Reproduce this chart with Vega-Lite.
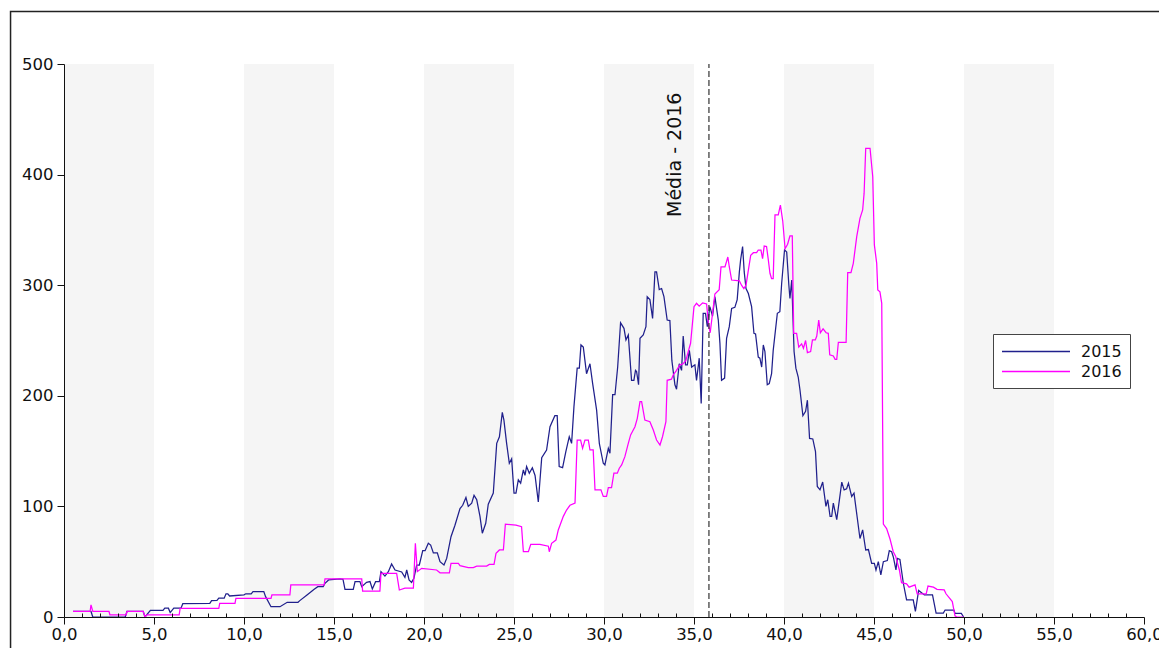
{
  "$schema": "https://vega.github.io/schema/vega-lite/v6.json",
  "width": 1080,
  "height": 553,
  "autosize": {"type": "none"},
  "padding": {"left": 64, "top": 64, "right": 15, "bottom": 31},
  "config": {"font": "DejaVu Sans", "view": {"stroke": null}},
  "datasets": {
    "bands": [{"start": 0, "end": 5}, {"start": 10, "end": 15}, {"start": 20, "end": 25}, {"start": 30, "end": 35}, {"start": 40, "end": 45}, {"start": 50, "end": 55}],
    "media": [{"media": 35.83, "label": "Média - 2016", "top": 500, "bottom": 0, "textY": 361.7}],
    "series": [
{"serie":"2015","x":0.5,"y":5},{"serie":"2015","x":1.5,"y":5},{"serie":"2015","x":1.6,"y":0},{"serie":"2015","x":3.4,"y":0},{"serie":"2015","x":3.5,"y":5},{"serie":"2015","x":4.4,"y":5},{"serie":"2015","x":4.5,"y":0},{"serie":"2015","x":4.8,"y":6},{"serie":"2015","x":5.5,"y":6},{"serie":"2015","x":5.6,"y":8},{"serie":"2015","x":5.8,"y":8},{"serie":"2015","x":5.9,"y":4},{"serie":"2015","x":6.1,"y":8},{"serie":"2015","x":6.5,"y":8},{"serie":"2015","x":6.6,"y":12},{"serie":"2015","x":8.1,"y":12.4},{"serie":"2015","x":8.2,"y":14.8},{"serie":"2015","x":8.5,"y":15},{"serie":"2015","x":8.6,"y":17},{"serie":"2015","x":8.9,"y":17},{"serie":"2015","x":9.0,"y":21},{"serie":"2015","x":9.1,"y":21},{"serie":"2015","x":9.2,"y":19},{"serie":"2015","x":10.0,"y":20},{"serie":"2015","x":10.1,"y":21},{"serie":"2015","x":10.4,"y":21},{"serie":"2015","x":10.5,"y":23},{"serie":"2015","x":11.1,"y":23},{"serie":"2015","x":11.2,"y":18.4},{"serie":"2015","x":11.5,"y":9.3},{"serie":"2015","x":12.0,"y":9.3},{"serie":"2015","x":12.4,"y":13.3},{"serie":"2015","x":13.0,"y":13.3},{"serie":"2015","x":13.1,"y":14.8},{"serie":"2015","x":13.5,"y":19.9},{"serie":"2015","x":13.9,"y":25},{"serie":"2015","x":14.1,"y":27.4},{"serie":"2015","x":14.4,"y":27.4},{"serie":"2015","x":14.5,"y":30.5},{"serie":"2015","x":14.7,"y":33.5},{"serie":"2015","x":15.33,"y":34.4},{"serie":"2015","x":15.5,"y":34},{"serie":"2015","x":15.61,"y":25},{"serie":"2015","x":16.07,"y":25},{"serie":"2015","x":16.17,"y":32},{"serie":"2015","x":16.44,"y":32},{"serie":"2015","x":16.54,"y":27.4},{"serie":"2015","x":16.81,"y":31.3},{"serie":"2015","x":17.0,"y":32},{"serie":"2015","x":17.13,"y":25.3},{"serie":"2015","x":17.31,"y":31.9},{"serie":"2015","x":17.52,"y":31.9},{"serie":"2015","x":17.61,"y":41},{"serie":"2015","x":17.83,"y":37},{"serie":"2015","x":18.02,"y":41},{"serie":"2015","x":18.2,"y":48},{"serie":"2015","x":18.39,"y":42.5},{"serie":"2015","x":18.76,"y":40.7},{"serie":"2015","x":18.94,"y":35.9},{"serie":"2015","x":19.04,"y":42.5},{"serie":"2015","x":19.17,"y":33.5},{"serie":"2015","x":19.31,"y":31.3},{"serie":"2015","x":19.44,"y":35},{"serie":"2015","x":19.59,"y":47},{"serie":"2015","x":19.74,"y":47},{"serie":"2015","x":19.93,"y":60},{"serie":"2015","x":20.06,"y":60},{"serie":"2015","x":20.24,"y":66.6},{"serie":"2015","x":20.37,"y":65},{"serie":"2015","x":20.52,"y":58},{"serie":"2015","x":20.74,"y":58},{"serie":"2015","x":20.89,"y":50},{"serie":"2015","x":21.11,"y":47},{"serie":"2015","x":21.26,"y":53},{"serie":"2015","x":21.5,"y":72.6},{"serie":"2015","x":21.72,"y":83},{"serie":"2015","x":22.0,"y":98},{"serie":"2015","x":22.15,"y":101},{"serie":"2015","x":22.33,"y":108},{"serie":"2015","x":22.46,"y":100},{"serie":"2015","x":22.65,"y":103},{"serie":"2015","x":22.78,"y":110},{"serie":"2015","x":22.93,"y":106},{"serie":"2015","x":23.11,"y":91},{"serie":"2015","x":23.24,"y":75.7},{"serie":"2015","x":23.43,"y":84.7},{"serie":"2015","x":23.57,"y":102},{"serie":"2015","x":23.85,"y":112},{"serie":"2015","x":24.04,"y":157},{"serie":"2015","x":24.19,"y":163},{"serie":"2015","x":24.35,"y":185},{"serie":"2015","x":24.44,"y":178},{"serie":"2015","x":24.59,"y":157},{"serie":"2015","x":24.74,"y":139},{"serie":"2015","x":24.87,"y":143},{"serie":"2015","x":25.0,"y":112},{"serie":"2015","x":25.11,"y":112},{"serie":"2015","x":25.24,"y":124},{"serie":"2015","x":25.37,"y":121},{"serie":"2015","x":25.52,"y":133},{"serie":"2015","x":25.61,"y":128},{"serie":"2015","x":25.7,"y":136},{"serie":"2015","x":25.85,"y":130},{"serie":"2015","x":26.02,"y":135},{"serie":"2015","x":26.17,"y":128},{"serie":"2015","x":26.35,"y":104},{"serie":"2015","x":26.54,"y":144},{"serie":"2015","x":26.81,"y":151},{"serie":"2015","x":27.0,"y":172},{"serie":"2015","x":27.27,"y":182},{"serie":"2015","x":27.4,"y":182},{"serie":"2015","x":27.51,"y":136},{"serie":"2015","x":27.7,"y":135},{"serie":"2015","x":27.88,"y":149.5},{"serie":"2015","x":28.07,"y":163},{"serie":"2015","x":28.2,"y":157},{"serie":"2015","x":28.33,"y":190},{"serie":"2015","x":28.51,"y":225},{"serie":"2015","x":28.63,"y":225},{"serie":"2015","x":28.72,"y":246},{"serie":"2015","x":28.85,"y":244},{"serie":"2015","x":29.03,"y":220},{"serie":"2015","x":29.22,"y":229},{"serie":"2015","x":29.37,"y":211},{"serie":"2015","x":29.59,"y":187},{"serie":"2015","x":29.74,"y":157},{"serie":"2015","x":29.96,"y":139},{"serie":"2015","x":30.05,"y":137.5},{"serie":"2015","x":30.24,"y":152.5},{"serie":"2015","x":30.33,"y":148},{"serie":"2015","x":30.48,"y":201},{"serie":"2015","x":30.61,"y":201},{"serie":"2015","x":30.76,"y":226},{"serie":"2015","x":30.92,"y":266},{"serie":"2015","x":31.11,"y":261},{"serie":"2015","x":31.22,"y":250.5},{"serie":"2015","x":31.35,"y":255},{"serie":"2015","x":31.53,"y":214},{"serie":"2015","x":31.66,"y":214},{"serie":"2015","x":31.75,"y":223},{"serie":"2015","x":31.81,"y":222},{"serie":"2015","x":31.92,"y":210},{"serie":"2015","x":32.0,"y":252},{"serie":"2015","x":32.18,"y":255},{"serie":"2015","x":32.33,"y":262.5},{"serie":"2015","x":32.4,"y":289.6},{"serie":"2015","x":32.55,"y":287},{"serie":"2015","x":32.7,"y":270},{"serie":"2015","x":32.83,"y":312},{"serie":"2015","x":32.92,"y":312},{"serie":"2015","x":33.07,"y":296},{"serie":"2015","x":33.2,"y":297},{"serie":"2015","x":33.33,"y":289.6},{"serie":"2015","x":33.51,"y":268.5},{"serie":"2015","x":33.66,"y":268},{"serie":"2015","x":33.77,"y":232},{"serie":"2015","x":33.94,"y":210},{"serie":"2015","x":34.03,"y":206},{"serie":"2015","x":34.18,"y":229},{"serie":"2015","x":34.31,"y":223},{"serie":"2015","x":34.4,"y":254},{"serie":"2015","x":34.53,"y":228},{"serie":"2015","x":34.63,"y":228},{"serie":"2015","x":34.74,"y":241},{"serie":"2015","x":34.87,"y":226},{"serie":"2015","x":35.05,"y":228},{"serie":"2015","x":35.14,"y":214},{"serie":"2015","x":35.29,"y":234},{"serie":"2015","x":35.4,"y":193},{"serie":"2015","x":35.51,"y":274.6},{"serie":"2015","x":35.64,"y":274.6},{"serie":"2015","x":35.74,"y":262.5},{"serie":"2015","x":35.88,"y":280.6},{"serie":"2015","x":36.03,"y":272},{"serie":"2015","x":36.16,"y":289.6},{"serie":"2015","x":36.35,"y":268.5},{"serie":"2015","x":36.44,"y":247.5},{"serie":"2015","x":36.53,"y":214},{"serie":"2015","x":36.7,"y":216},{"serie":"2015","x":36.81,"y":252},{"serie":"2015","x":36.96,"y":262.5},{"serie":"2015","x":37.09,"y":279},{"serie":"2015","x":37.27,"y":280},{"serie":"2015","x":37.4,"y":287},{"serie":"2015","x":37.52,"y":312},{"serie":"2015","x":37.59,"y":323},{"serie":"2015","x":37.7,"y":335},{"serie":"2015","x":37.79,"y":312},{"serie":"2015","x":37.89,"y":297},{"serie":"2015","x":38.02,"y":292.5},{"serie":"2015","x":38.2,"y":280.6},{"serie":"2015","x":38.33,"y":256.5},{"serie":"2015","x":38.42,"y":256},{"serie":"2015","x":38.57,"y":235},{"serie":"2015","x":38.66,"y":234},{"serie":"2015","x":38.76,"y":226},{"serie":"2015","x":38.85,"y":246},{"serie":"2015","x":38.94,"y":240},{"serie":"2015","x":39.07,"y":210},{"serie":"2015","x":39.18,"y":211},{"serie":"2015","x":39.31,"y":220},{"serie":"2015","x":39.4,"y":241},{"serie":"2015","x":39.63,"y":274.6},{"serie":"2015","x":39.77,"y":276},{"serie":"2015","x":39.87,"y":301.6},{"serie":"2015","x":40.03,"y":332},{"serie":"2015","x":40.15,"y":330},{"serie":"2015","x":40.27,"y":300},{"serie":"2015","x":40.33,"y":288},{"serie":"2015","x":40.43,"y":304.7},{"serie":"2015","x":40.56,"y":240},{"serie":"2015","x":40.66,"y":225},{"serie":"2015","x":40.79,"y":217},{"serie":"2015","x":40.89,"y":205},{"serie":"2015","x":41.05,"y":182},{"serie":"2015","x":41.2,"y":186},{"serie":"2015","x":41.3,"y":196},{"serie":"2015","x":41.42,"y":161.5},{"serie":"2015","x":41.6,"y":161},{"serie":"2015","x":41.75,"y":149.5},{"serie":"2015","x":41.85,"y":118},{"serie":"2015","x":42.0,"y":115},{"serie":"2015","x":42.15,"y":122},{"serie":"2015","x":42.33,"y":100},{"serie":"2015","x":42.43,"y":106},{"serie":"2015","x":42.56,"y":91},{"serie":"2015","x":42.65,"y":91},{"serie":"2015","x":42.74,"y":103},{"serie":"2015","x":42.93,"y":88},{"serie":"2015","x":43.21,"y":122},{"serie":"2015","x":43.34,"y":115},{"serie":"2015","x":43.48,"y":116},{"serie":"2015","x":43.58,"y":121},{"serie":"2015","x":43.76,"y":109},{"serie":"2015","x":43.89,"y":112},{"serie":"2015","x":44.22,"y":71},{"serie":"2015","x":44.37,"y":78.7},{"serie":"2015","x":44.54,"y":60.6},{"serie":"2015","x":44.69,"y":61},{"serie":"2015","x":44.87,"y":48.5},{"serie":"2015","x":45.02,"y":48.5},{"serie":"2015","x":45.11,"y":42.5},{"serie":"2015","x":45.24,"y":50},{"serie":"2015","x":45.38,"y":38},{"serie":"2015","x":45.52,"y":50},{"serie":"2015","x":45.74,"y":51},{"serie":"2015","x":45.85,"y":60},{"serie":"2015","x":45.98,"y":59},{"serie":"2015","x":46.07,"y":54.5},{"serie":"2015","x":46.22,"y":42.5},{"serie":"2015","x":46.3,"y":53},{"serie":"2015","x":46.44,"y":52},{"serie":"2015","x":46.63,"y":30.5},{"serie":"2015","x":46.81,"y":15.4},{"serie":"2015","x":47.18,"y":15.4},{"serie":"2015","x":47.3,"y":5},{"serie":"2015","x":47.48,"y":24},{"serie":"2015","x":47.8,"y":20},{"serie":"2015","x":48.25,"y":20},{"serie":"2015","x":48.45,"y":3.5},{"serie":"2015","x":48.85,"y":3.5},{"serie":"2015","x":48.95,"y":6.3},{"serie":"2015","x":49.44,"y":6.3},{"serie":"2015","x":49.5,"y":3.3},{"serie":"2015","x":49.85,"y":3.3},{"serie":"2015","x":49.98,"y":0},
{"serie":"2016","x":0.5,"y":5},{"serie":"2016","x":1.45,"y":5},{"serie":"2016","x":1.5,"y":11},{"serie":"2016","x":1.6,"y":5},{"serie":"2016","x":2.5,"y":5},{"serie":"2016","x":2.55,"y":2},{"serie":"2016","x":3.45,"y":2},{"serie":"2016","x":3.5,"y":5},{"serie":"2016","x":4.4,"y":5},{"serie":"2016","x":4.5,"y":0},{"serie":"2016","x":4.6,"y":2},{"serie":"2016","x":6.4,"y":2},{"serie":"2016","x":6.45,"y":7.8},{"serie":"2016","x":8.6,"y":7.8},{"serie":"2016","x":8.65,"y":12.4},{"serie":"2016","x":9.5,"y":12.4},{"serie":"2016","x":9.55,"y":16.9},{"serie":"2016","x":11.5,"y":16.9},{"serie":"2016","x":11.55,"y":19.9},{"serie":"2016","x":12.55,"y":19.9},{"serie":"2016","x":12.6,"y":29},{"serie":"2016","x":14.45,"y":29},{"serie":"2016","x":14.5,"y":34.4},{"serie":"2016","x":16.54,"y":34.4},{"serie":"2016","x":16.59,"y":23.5},{"serie":"2016","x":17.55,"y":23.5},{"serie":"2016","x":17.61,"y":39.5},{"serie":"2016","x":18.48,"y":39.5},{"serie":"2016","x":18.63,"y":24.4},{"serie":"2016","x":18.94,"y":26},{"serie":"2016","x":19.41,"y":26},{"serie":"2016","x":19.52,"y":66.6},{"serie":"2016","x":19.63,"y":41},{"serie":"2016","x":19.87,"y":44},{"serie":"2016","x":20.7,"y":42.5},{"serie":"2016","x":20.89,"y":40},{"serie":"2016","x":21.41,"y":40},{"serie":"2016","x":21.5,"y":48.5},{"serie":"2016","x":21.91,"y":48.5},{"serie":"2016","x":22.0,"y":46.4},{"serie":"2016","x":22.46,"y":44.6},{"serie":"2016","x":22.74,"y":44.6},{"serie":"2016","x":22.93,"y":46},{"serie":"2016","x":23.48,"y":46},{"serie":"2016","x":23.63,"y":47.6},{"serie":"2016","x":23.89,"y":47.6},{"serie":"2016","x":24.0,"y":57.6},{"serie":"2016","x":24.19,"y":60.6},{"serie":"2016","x":24.41,"y":60.6},{"serie":"2016","x":24.52,"y":84},{"serie":"2016","x":25.11,"y":83},{"serie":"2016","x":25.42,"y":81.7},{"serie":"2016","x":25.52,"y":59},{"serie":"2016","x":25.8,"y":59},{"serie":"2016","x":25.93,"y":65.7},{"serie":"2016","x":26.44,"y":65.7},{"serie":"2016","x":26.91,"y":64},{"serie":"2016","x":26.96,"y":59},{"serie":"2016","x":27.09,"y":66.6},{"serie":"2016","x":27.33,"y":69.6},{"serie":"2016","x":27.46,"y":78.7},{"serie":"2016","x":27.74,"y":91},{"serie":"2016","x":27.92,"y":96.7},{"serie":"2016","x":28.11,"y":101},{"serie":"2016","x":28.39,"y":103},{"serie":"2016","x":28.51,"y":160},{"serie":"2016","x":28.7,"y":160},{"serie":"2016","x":28.81,"y":152.5},{"serie":"2016","x":28.94,"y":160},{"serie":"2016","x":29.13,"y":160},{"serie":"2016","x":29.22,"y":151},{"serie":"2016","x":29.4,"y":151},{"serie":"2016","x":29.5,"y":115},{"serie":"2016","x":29.83,"y":115},{"serie":"2016","x":29.96,"y":109},{"serie":"2016","x":30.14,"y":109},{"serie":"2016","x":30.24,"y":117},{"serie":"2016","x":30.42,"y":117},{"serie":"2016","x":30.55,"y":130},{"serie":"2016","x":30.74,"y":130},{"serie":"2016","x":30.85,"y":134.5},{"serie":"2016","x":30.98,"y":137.5},{"serie":"2016","x":31.16,"y":145},{"serie":"2016","x":31.35,"y":157},{"serie":"2016","x":31.48,"y":164.6},{"serie":"2016","x":31.72,"y":172},{"serie":"2016","x":31.85,"y":179.6},{"serie":"2016","x":32.0,"y":194.7},{"serie":"2016","x":32.09,"y":194.7},{"serie":"2016","x":32.27,"y":178},{"serie":"2016","x":32.55,"y":176.6},{"serie":"2016","x":32.74,"y":169},{"serie":"2016","x":32.92,"y":160},{"serie":"2016","x":33.11,"y":155.5},{"serie":"2016","x":33.25,"y":163},{"serie":"2016","x":33.44,"y":176.6},{"serie":"2016","x":33.51,"y":214},{"serie":"2016","x":33.75,"y":215},{"serie":"2016","x":33.85,"y":219},{"serie":"2016","x":34.03,"y":223},{"serie":"2016","x":34.22,"y":228},{"serie":"2016","x":34.4,"y":229},{"serie":"2016","x":34.55,"y":232},{"serie":"2016","x":34.68,"y":240},{"serie":"2016","x":34.81,"y":247.5},{"serie":"2016","x":35.0,"y":280.6},{"serie":"2016","x":35.14,"y":283.6},{"serie":"2016","x":35.29,"y":281},{"serie":"2016","x":35.48,"y":284},{"serie":"2016","x":35.7,"y":283},{"serie":"2016","x":35.8,"y":265},{"serie":"2016","x":35.9,"y":257},{"serie":"2016","x":36.04,"y":276},{"serie":"2016","x":36.16,"y":292},{"serie":"2016","x":36.4,"y":296},{"serie":"2016","x":36.5,"y":316.5},{"serie":"2016","x":36.72,"y":316.5},{"serie":"2016","x":36.88,"y":325.5},{"serie":"2016","x":36.96,"y":316.7},{"serie":"2016","x":37.09,"y":304.7},{"serie":"2016","x":37.52,"y":304},{"serie":"2016","x":37.64,"y":300},{"serie":"2016","x":37.77,"y":297},{"serie":"2016","x":37.89,"y":300},{"serie":"2016","x":38.02,"y":313.7},{"serie":"2016","x":38.15,"y":327},{"serie":"2016","x":38.3,"y":329.4},{"serie":"2016","x":38.48,"y":329.4},{"serie":"2016","x":38.57,"y":331.8},{"serie":"2016","x":38.72,"y":331.8},{"serie":"2016","x":38.81,"y":324},{"serie":"2016","x":38.9,"y":335.4},{"serie":"2016","x":39.03,"y":335},{"serie":"2016","x":39.13,"y":322.8},{"serie":"2016","x":39.22,"y":310.8},{"serie":"2016","x":39.31,"y":306},{"serie":"2016","x":39.4,"y":306},{"serie":"2016","x":39.5,"y":363.5},{"serie":"2016","x":39.68,"y":363.5},{"serie":"2016","x":39.8,"y":372.5},{"serie":"2016","x":39.93,"y":358},{"serie":"2016","x":40.06,"y":333},{"serie":"2016","x":40.2,"y":337},{"serie":"2016","x":40.33,"y":344.5},{"serie":"2016","x":40.46,"y":344.5},{"serie":"2016","x":40.54,"y":256.5},{"serie":"2016","x":40.7,"y":256.5},{"serie":"2016","x":40.82,"y":244},{"serie":"2016","x":40.98,"y":247},{"serie":"2016","x":41.08,"y":243},{"serie":"2016","x":41.2,"y":250},{"serie":"2016","x":41.3,"y":239},{"serie":"2016","x":41.48,"y":240},{"serie":"2016","x":41.58,"y":250.5},{"serie":"2016","x":41.74,"y":250.5},{"serie":"2016","x":41.82,"y":254},{"serie":"2016","x":41.93,"y":268.5},{"serie":"2016","x":42.02,"y":257},{"serie":"2016","x":42.17,"y":260.5},{"serie":"2016","x":42.34,"y":257},{"serie":"2016","x":42.46,"y":256.5},{"serie":"2016","x":42.54,"y":237},{"serie":"2016","x":42.74,"y":236},{"serie":"2016","x":42.84,"y":233},{"serie":"2016","x":42.93,"y":233},{"serie":"2016","x":43.02,"y":248.4},{"serie":"2016","x":43.45,"y":248.4},{"serie":"2016","x":43.54,"y":311.3},{"serie":"2016","x":43.72,"y":311.3},{"serie":"2016","x":43.85,"y":319.8},{"serie":"2016","x":44.04,"y":343.9},{"serie":"2016","x":44.22,"y":360.5},{"serie":"2016","x":44.37,"y":368},{"serie":"2016","x":44.45,"y":383},{"serie":"2016","x":44.54,"y":423.8},{"serie":"2016","x":44.78,"y":423.8},{"serie":"2016","x":44.93,"y":398},{"serie":"2016","x":45.02,"y":336.4},{"serie":"2016","x":45.15,"y":319.8},{"serie":"2016","x":45.21,"y":295.7},{"serie":"2016","x":45.33,"y":294},{"serie":"2016","x":45.43,"y":283.6},{"serie":"2016","x":45.52,"y":84},{"serie":"2016","x":45.7,"y":80},{"serie":"2016","x":45.89,"y":70.5},{"serie":"2016","x":46.07,"y":59},{"serie":"2016","x":46.2,"y":55},{"serie":"2016","x":46.41,"y":42.5},{"serie":"2016","x":46.53,"y":31},{"serie":"2016","x":46.81,"y":30},{"serie":"2016","x":46.95,"y":27},{"serie":"2016","x":47.28,"y":29},{"serie":"2016","x":47.4,"y":21},{"serie":"2016","x":47.9,"y":21},{"serie":"2016","x":48.0,"y":28},{"serie":"2016","x":48.3,"y":27},{"serie":"2016","x":48.5,"y":25},{"serie":"2016","x":48.9,"y":24.5},{"serie":"2016","x":49.0,"y":21},{"serie":"2016","x":49.35,"y":14},{"serie":"2016","x":49.5,"y":1},{"serie":"2016","x":49.6,"y":0},{"serie":"2016","x":49.98,"y":0}
    ]
  },
  "layer": [
    {
      "data": {"name": "bands"},
      "mark": {"type": "rect", "color": "#f5f5f5"},
      "encoding": {
        "x": {"field": "start", "type": "quantitative", "scale": {"domain": [0, 60], "nice": false, "zero": false},
          "axis": {"orient": "bottom", "values": [1,2,3,4,6,7,8,9,11,12,13,14,16,17,18,19,21,22,23,24,26,27,28,29,31,32,33,34,36,37,38,39,41,42,43,44,46,47,48,49,51,52,53,54,56,57,58,59],
            "tickSize": -4, "labels": false, "domain": false, "grid": false, "title": null, "zindex": 1, "tickColor": "#111", "tickWidth": 1}},
        "x2": {"field": "end"},
        "y": {"datum": 0, "type": "quantitative", "scale": {"domain": [0, 500], "nice": false},
          "axis": {"values": [0,100,200,300,400,500], "tickSize": 7, "labelFontSize": 16.5, "labelPadding": 4, "labelColor": "#111", "domainColor": "#111", "tickColor": "#111", "grid": false, "title": null, "zindex": 1}},
        "y2": {"datum": 500}
      }
    },
    {
      "layer": [
        {
          "data": {"values": [{"frame": 1}]},
          "mark": {"type": "rect", "filled": false, "stroke": "#222", "strokeWidth": 1.5, "clip": false},
          "encoding": {
            "x": {"datum": -2.97, "type": "quantitative", "scale": {"domain": [0, 60], "nice": false, "zero": false}},
            "x2": {"datum": 62},
            "y": {"datum": 547.5, "type": "quantitative", "title": null},
            "y2": {"datum": -40}
          }
        },
        {
          "data": {"name": "series"},
          "mark": {"type": "line", "strokeWidth": 1.25},
          "encoding": {
            "x": {"field": "x", "type": "quantitative",
              "axis": {"orient": "bottom", "values": [0,5,10,15,20,25,30,35,40,45,50,55,60], "labelExpr": "replace(format(datum.value, '.1f'), '.', ',')",
                "tickSize": 7, "labelFontSize": 16.5, "labelPadding": 2, "labelFlush": false, "labelColor": "#111", "domainColor": "#111", "tickColor": "#111", "grid": false, "title": null, "zindex": 1}},
            "y": {"field": "y", "type": "quantitative", "title": null},
            "color": {"field": "serie", "type": "nominal", "scale": {"domain": ["2015", "2016"], "range": ["#20208c", "#ff00ff"]},
              "legend": {"orient": "none", "legendX": 929, "legendY": 270, "title": null, "strokeColor": "#444", "fillColor": "white", "padding": 8,
                "symbolType": "M-1,0H7", "symbolSize": 289, "symbolStrokeWidth": 1.3, "symbolFillColor": "transparent", "labelFontSize": 16, "labelOffset": 61, "labelColor": "#111"}}
          }
        },
        {
          "data": {"name": "media"},
          "mark": {"type": "rule", "strokeDash": [6, 3], "color": "#333", "strokeWidth": 1.2},
          "encoding": {
            "x": {"field": "media", "type": "quantitative"},
            "y": {"field": "bottom", "type": "quantitative", "title": null},
            "y2": {"field": "top"}
          }
        },
        {
          "data": {"name": "media"},
          "mark": {"type": "text", "angle": 270, "align": "left", "baseline": "alphabetic", "dy": -28, "fontSize": 19, "color": "#111"},
          "encoding": {
            "x": {"field": "media", "type": "quantitative"},
            "y": {"field": "textY", "type": "quantitative", "title": null},
            "text": {"field": "label"}
          }
        }
      ]
    }
  ],
  "resolve": {"scale": {"x": "independent"}}
}
